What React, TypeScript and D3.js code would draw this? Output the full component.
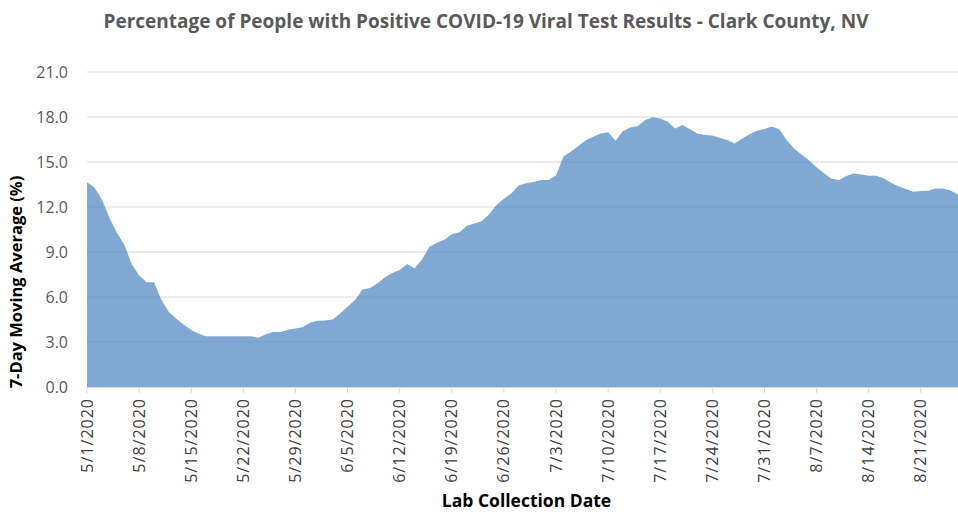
import * as d3 from "d3";
import React from "react";

// 7-day moving average, one value per day starting 5/1/2020
const startDate = "2020-05-01";
const positivity = [
  13.65, 13.3, 12.5, 11.3, 10.3, 9.5, 8.2, 7.45, 6.98, 6.98,
  5.8, 5.0, 4.55, 4.15, 3.8, 3.55, 3.38, 3.38, 3.38, 3.38,
  3.38, 3.38, 3.38, 3.28, 3.5, 3.66, 3.66, 3.82, 3.9, 4.0,
  4.3, 4.42, 4.43, 4.5, 4.9, 5.35, 5.8, 6.5, 6.6, 6.9,
  7.3, 7.6, 7.8, 8.2, 7.9, 8.5, 9.35, 9.62, 9.82, 10.18,
  10.3, 10.73, 10.9, 11.05, 11.5, 12.13, 12.55, 12.9, 13.45, 13.58,
  13.67, 13.8, 13.8, 14.1, 15.36, 15.7, 16.07, 16.45, 16.68, 16.9,
  16.98, 16.42, 17.07, 17.3, 17.4, 17.8, 17.98, 17.9, 17.68, 17.24,
  17.47, 17.18, 16.9, 16.8, 16.76, 16.62, 16.47, 16.24, 16.55, 16.85,
  17.09, 17.2, 17.36, 17.18, 16.45, 15.88, 15.5, 15.1, 14.65, 14.25,
  13.88, 13.8, 14.07, 14.24, 14.16, 14.09, 14.09, 13.92, 13.62, 13.38,
  13.2, 13.02, 13.07, 13.09, 13.24, 13.24, 13.1, 12.84,
];
const yTicks = [0, 3, 6, 9, 12, 15, 18, 21];
const titleText = "Percentage of People with Positive COVID-19 Viral Test Results - Clark County, NV";
const xTitle = "Lab Collection Date";
const yTitle = "7-Day Moving Average (%)";

const App = (): React.ReactElement => {
  const width = 958;
  const height = 512;
  const margin = { top: 72, right: 0, bottom: 125, left: 87 };
  const innerW = width - margin.left - margin.right;
  const innerH = height - margin.top - margin.bottom;

  const parse = d3.timeParse("%Y-%m-%d");
  const start = parse(startDate) as Date;
  const dates = positivity.map((_, i) => d3.timeDay.offset(start, i));

  const x = d3.scaleTime().domain([dates[0], dates[dates.length - 1]]).range([0, innerW]);
  const y = d3.scaleLinear().domain([0, 21]).range([innerH, 0]);

  const tickDates = dates.filter((_, i) => i % 7 === 0);
  const fmt = (d: Date) => `${d.getMonth() + 1}/${d.getDate()}/${d.getFullYear()}`;

  const area = d3
    .area<number>()
    .x((_, i) => x(dates[i]))
    .y0(y(0))
    .y1((d) => y(d));

  const font = "'Open Sans', 'Noto Sans', sans-serif";

  return (
    <svg width={width} height={height} style={{ position: "absolute", left: 0, top: 0 }}>
      <rect width={width} height={height} fill="#fff" />
      <text x={486} y={28} textAnchor="middle" fontFamily={font} fontWeight="bold" fontSize={19} fill="#595959">
        {titleText}
      </text>
      <g transform={`translate(${margin.left},${margin.top})`}>
        {yTicks.map((t) => (
          <g key={t}>
            {t > 0 && <line x1={0} x2={innerW} y1={y(t)} y2={y(t)} stroke="#d9d9d9" strokeWidth={1} />}
            <text x={-19} y={y(t)} dy="0.35em" textAnchor="end" fontFamily={font} fontSize={16} fill="#595959">
              {t.toFixed(1)}
            </text>
          </g>
        ))}
        <path d={area(positivity) ?? ""} fill="rgb(70,130,190)" fillOpacity={0.69} />
        <line x1={0} x2={innerW} y1={innerH + 0.5} y2={innerH + 0.5} stroke="#d9d9d9" />
        {tickDates.map((d) => (
          <g key={d.getTime()} transform={`translate(${x(d)},${innerH})`}>
            <line y1={0} y2={6} stroke="#d9d9d9" />
            <text transform="rotate(-90)" x={-11} y={0} dy="0.35em" textAnchor="end" fontFamily={font} fontSize={16} letterSpacing={1} fill="#404040">
              {fmt(d)}
            </text>
          </g>
        ))}
        <text x={innerW / 2 + 4} y={innerH + 120} textAnchor="middle" fontFamily={font} fontWeight="bold" fontSize={17.5} fill="#000">
          {xTitle}
        </text>
        <text transform={`translate(${-65},${210}) rotate(-90)`} textAnchor="middle" fontFamily={font} fontWeight="bold" fontSize={16.5} fill="#000">
          {yTitle}
        </text>
      </g>
    </svg>
  );
};

export default App;
